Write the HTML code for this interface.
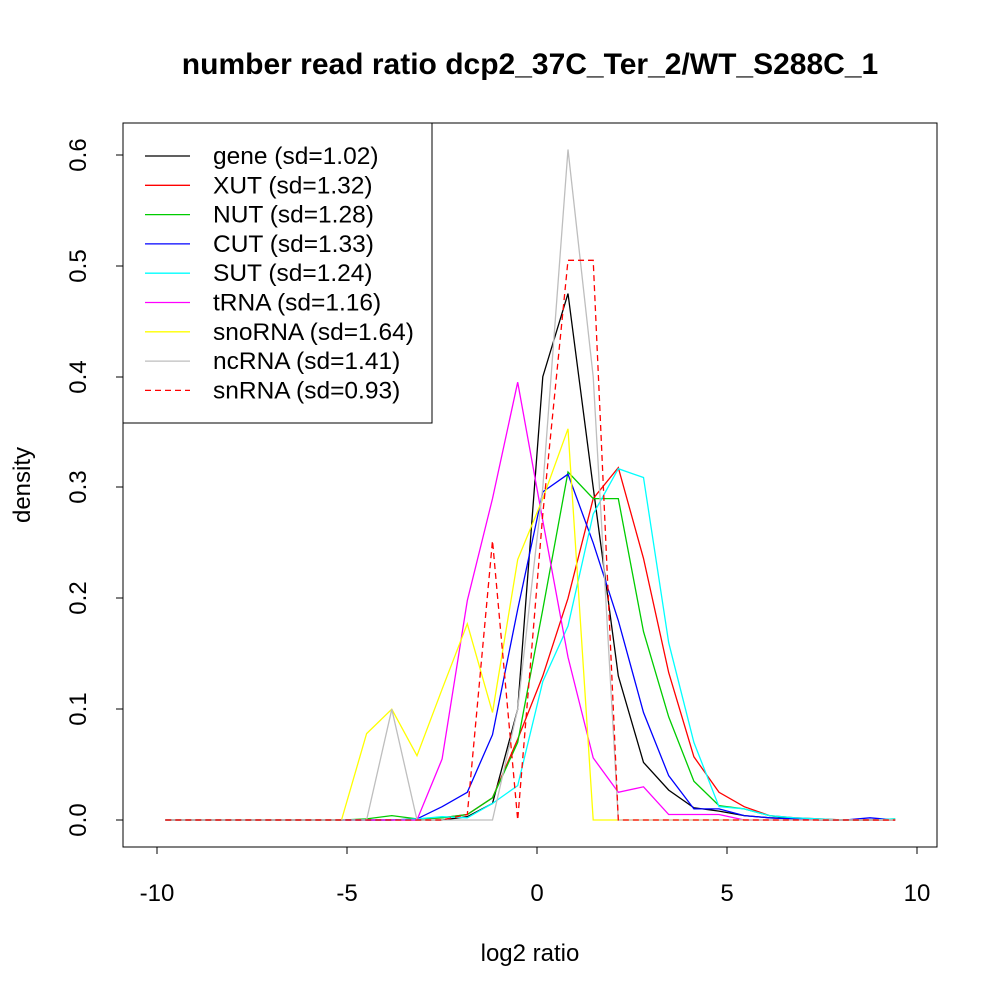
<!DOCTYPE html>
<html><head><meta charset="utf-8"><style>body{margin:0;background:#fff}svg{display:block}</style></head>
<body>
<svg id="s" width="1000" height="1000" xmlns="http://www.w3.org/2000/svg" font-family="Liberation Sans, sans-serif">
<rect width="1000" height="1000" fill="#fff"/>
<text x="530" y="74" font-size="30" font-weight="bold" text-anchor="middle">number read ratio dcp2_37C_Ter_2/WT_S288C_1</text>
<rect x="123" y="123" width="814" height="724" fill="none" stroke="#000" stroke-width="1"/>
<g stroke="#000" stroke-width="1">
<line x1="157" y1="847" x2="917" y2="847"/>
<line x1="157" y1="847" x2="157" y2="854"/><line x1="347" y1="847" x2="347" y2="854"/><line x1="537" y1="847" x2="537" y2="854"/><line x1="727" y1="847" x2="727" y2="854"/><line x1="917" y1="847" x2="917" y2="854"/>
<line x1="123" y1="820" x2="123" y2="155"/>
<line x1="116" y1="820" x2="123" y2="820"/><line x1="116" y1="709" x2="123" y2="709"/><line x1="116" y1="598" x2="123" y2="598"/><line x1="116" y1="487" x2="123" y2="487"/><line x1="116" y1="377" x2="123" y2="377"/><line x1="116" y1="266" x2="123" y2="266"/><line x1="116" y1="155" x2="123" y2="155"/>
</g>
<g font-size="24" text-anchor="middle">
<text x="157" y="901">-10</text><text x="347" y="901">-5</text><text x="537" y="901">0</text><text x="727" y="901">5</text><text x="917" y="901">10</text>
<text x="530" y="961">log2 ratio</text>
<text transform="translate(30,485) rotate(-90)">density</text>
<text transform="translate(86,820) rotate(-90)">0.0</text>
<text transform="translate(86,709) rotate(-90)">0.1</text>
<text transform="translate(86,598) rotate(-90)">0.2</text>
<text transform="translate(86,487) rotate(-90)">0.3</text>
<text transform="translate(86,377) rotate(-90)">0.4</text>
<text transform="translate(86,266) rotate(-90)">0.5</text>
<text transform="translate(86,155) rotate(-90)">0.6</text>
</g>
<g id="lines" fill="none" stroke-width="1.3"></g>
<rect x="123" y="123" width="309" height="300" fill="#fff" stroke="#000"/>
<g id="leg" font-size="24.5"></g>
</svg>
<script>
var z=function(n){return Array(n).fill(0)};
var S=[
["#000","gene (sd=1.02)",z(12).concat([0.003,0.015,0.10,0.40,0.475,0.30,0.13,0.052,0.027,0.011,0.008,0.004,0.002,0.001,0,0,0,0])],
["#f00","XUT (sd=1.32)",z(10).concat([0.001,0.002,0.005,0.02,0.073,0.13,0.20,0.29,0.318,0.236,0.133,0.057,0.025,0.012,0.004,0.002,0.001,0,0,0])],
["#0c0","NUT (sd=1.28)",z(8).concat([0.001,0.004,0.001,0.002,0.005,0.02,0.07,0.19,0.314,0.29,0.29,0.17,0.093,0.035,0.013,0.01,0.004,0.001,0,0,0,0.001])],
["#00f","CUT (sd=1.33)",z(10).concat([0.001,0.012,0.025,0.077,0.19,0.296,0.312,0.25,0.18,0.097,0.04,0.01,0.01,0.004,0.002,0.001,0,0,0.002,0])],
["#0ff","SUT (sd=1.24)",z(10).concat([0.001,0.003,0.002,0.015,0.031,0.125,0.175,0.276,0.317,0.309,0.16,0.07,0.012,0.01,0.004,0.002,0.001,0,0,0.001])],
["#f0f","tRNA (sd=1.16)",z(11).concat([0.055,0.198,0.29,0.395,0.27,0.147,0.056,0.025,0.03,0.005,0.005,0.005]).concat(z(7))],
["#ff0","snoRNA (sd=1.64)",z(8).concat([0.078,0.10,0.058,0.118,0.177,0.097,0.235,0.29,0.353]).concat(z(13))],
["#bebebe","ncRNA (sd=1.41)",z(9).concat([0.10,0,0,0,0,0.10,0.30,0.605,0.40,0]).concat(z(11))],
["#f00","snRNA (sd=0.93)",z(12).concat([0.005,0.252,0,0.276,0.505,0.505,0]).concat(z(11)),1]
];
var ns="http://www.w3.org/2000/svg",L=document.getElementById("lines"),G=document.getElementById("leg");
S.forEach(function(s,j){
 var p=s[2].map(function(d,i){return (568+25.17*(i-16)).toFixed(1)+","+(820-1108.3*d).toFixed(1)}).join(" ");
 var e=document.createElementNS(ns,"polyline");e.setAttribute("points",p);e.setAttribute("stroke",s[0]);
 if(s[3])e.setAttribute("stroke-dasharray","6,4");L.appendChild(e);
 var y=156+29.3*j;
 var l=document.createElementNS(ns,"line");l.setAttribute("x1",145);l.setAttribute("x2",190);l.setAttribute("y1",y);l.setAttribute("y2",y);l.setAttribute("stroke",s[0]);l.setAttribute("stroke-width",1.3);
 if(s[3])l.setAttribute("stroke-dasharray","6,4");G.appendChild(l);
 var t=document.createElementNS(ns,"text");t.setAttribute("x",213);t.setAttribute("y",y+8);t.textContent=s[1];G.appendChild(t);
});
</script>
</body></html>
